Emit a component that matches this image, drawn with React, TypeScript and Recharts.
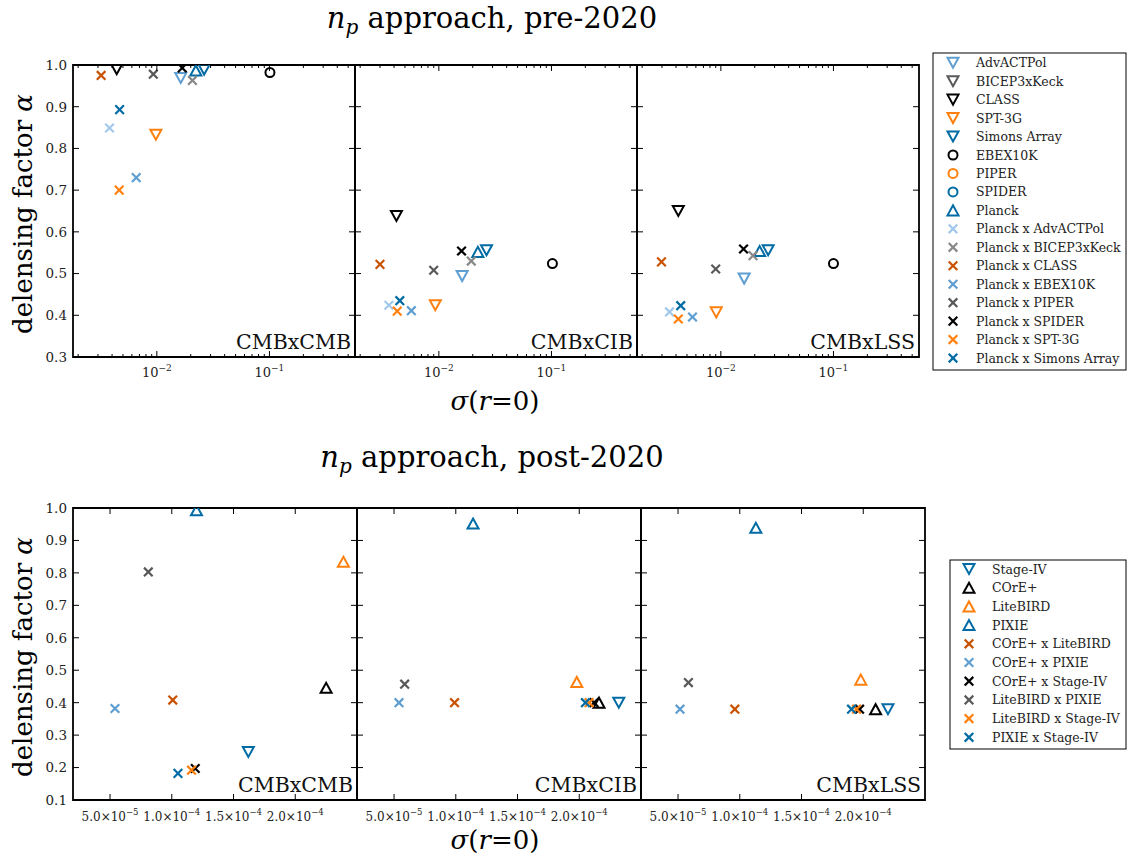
import React from 'react';
import { ScatterChart, Scatter, XAxis, YAxis, ReferenceArea } from 'recharts';

const FONT = '"DejaVu Serif", "Liberation Serif", serif';

const BLUE = '#006BA4';
const ORANGE = '#FF800E';
const DGRAY = '#595959';
const MBLUE = '#5F9ED1';
const DORANGE = '#C85200';
const GRAY = '#898989';
const LBLUE = '#A2C8EC';
const BLACK = '#000000';

// ---------- pre-2020 ----------
const preNames = [
  'AdvACTPol', 'BICEP3xKeck', 'CLASS', 'SPT-3G', 'Simons Array', 'EBEX10K', 'PIPER', 'SPIDER', 'Planck',
  'Planck x AdvACTPol', 'Planck x BICEP3xKeck', 'Planck x CLASS', 'Planck x EBEX10K', 'Planck x PIPER',
  'Planck x SPIDER', 'Planck x SPT-3G', 'Planck x Simons Array',
];
const preShapes = ['down', 'down', 'down', 'down', 'down', 'circle', 'circle', 'circle', 'up',
  'x', 'x', 'x', 'x', 'x', 'x', 'x', 'x'];
const preColors = [MBLUE, DGRAY, BLACK, ORANGE, BLUE, BLACK, ORANGE, BLUE, BLUE,
  LBLUE, GRAY, DORANGE, MBLUE, DGRAY, BLACK, ORANGE, BLUE];

const preCMBxCMB_sigma = [1.63e-2, null, 4.4e-3, 9.8e-3, 2.63e-2, 0.101, null, null, 2.22e-2,
  3.8e-3, 2.07e-2, 3.2e-3, 6.56e-3, 9.3e-3, 1.68e-2, 4.63e-3, 4.67e-3];
const preCMBxCMB_alpha = [0.969, null, 0.99, 0.833, 0.989, 0.982, null, null, 0.987,
  0.849, 0.963, 0.975, 0.730, 0.978, 0.993, 0.700, 0.893];

const preCMBxCIB_sigma = [1.61e-2, null, 4.2e-3, 9.3e-3, 2.65e-2, 0.102, null, null, 2.22e-2,
  3.6e-3, 1.94e-2, 3.0e-3, 5.7e-3, 9.0e-3, 1.59e-2, 4.27e-3, 4.5e-3];
const preCMBxCIB_alpha = [0.494, null, 0.638, 0.424, 0.556, 0.524, null, null, 0.552,
  0.424, 0.530, 0.522, 0.411, 0.508, 0.554, 0.410, 0.435];

const preCMBxLSS_sigma = [1.61e-2, null, 4.19e-3, 9.1e-3, 2.63e-2, 0.1, null, null, 2.21e-2,
  3.5e-3, 1.93e-2, 2.97e-3, 5.6e-3, 9.0e-3, 1.59e-2, 4.19e-3, 4.4e-3];
const preCMBxLSS_alpha = [0.488, null, 0.650, 0.407, 0.556, 0.524, null, null, 0.554,
  0.408, 0.543, 0.528, 0.396, 0.511, 0.559, 0.391, 0.423];

// ---------- post-2020 ----------
const postNames = [
  'Stage-IV', 'COrE+', 'LiteBIRD', 'PIXIE', 'COrE+ x LiteBIRD', 'COrE+ x PIXIE', 'COrE+ x Stage-IV',
  'LiteBIRD x PIXIE', 'LiteBIRD x Stage-IV', 'PIXIE x Stage-IV',
];
const postShapes = ['down', 'up', 'up', 'up', 'x', 'x', 'x', 'x', 'x', 'x'];
const postColors = [BLUE, BLACK, ORANGE, BLUE, DORANGE, MBLUE, BLACK, DGRAY, ORANGE, BLUE];

const postCMBxCMB_sigma = [1.62e-4, 2.25e-4, 2.39e-4, 1.20e-4, 1.008e-4, 5.4e-5, 1.19e-4, 8.1e-5, 1.16e-4, 1.05e-4];
const postCMBxCMB_alpha = [0.248, 0.446, 0.834, 0.993, 0.408, 0.382, 0.197, 0.803, 0.192, 0.182];

const postCMBxCIB_sigma = [2.32e-4, 2.16e-4, 1.98e-4, 1.14e-4, 9.9e-5, 5.4e-5, 2.12e-4, 5.86e-5, 2.08e-4, 2.05e-4];
const postCMBxCIB_alpha = [0.40, 0.40, 0.464, 0.952, 0.40, 0.40, 0.40, 0.457, 0.40, 0.40];

const postCMBxLSS_sigma = [2.2e-4, 2.1e-4, 1.98e-4, 1.13e-4, 9.6e-5, 5.16e-5, 1.97e-4, 5.84e-5, 1.946e-4, 1.905e-4];
const postCMBxLSS_alpha = [0.38, 0.38, 0.471, 0.939, 0.38, 0.38, 0.38, 0.462, 0.38, 0.38];

// ---------- axes ----------
const preXDomain = [0.0018, 0.575];
const preXTicks = [0.002, 0.003, 0.004, 0.005, 0.006, 0.007, 0.008, 0.009, 0.01,
  0.02, 0.03, 0.04, 0.05, 0.06, 0.07, 0.08, 0.09, 0.1, 0.2, 0.3, 0.4, 0.5];
const preYDomain = [0.3, 1.0];
const preYTicks = [0.3, 0.4, 0.5, 0.6, 0.7, 0.8, 0.9, 1.0];

const postXDomain = [2e-5, 2.5e-4];
const postXTicks = [5e-5, 1e-4, 1.5e-4, 2e-4];
const postYDomain = [0.1, 1.0];
const postYTicks = [0.1, 0.2, 0.3, 0.4, 0.5, 0.6, 0.7, 0.8, 0.9, 1.0];

const panelLabels = ['CMBxCMB', 'CMBxCIB', 'CMBxLSS'];

function Marker({ cx, cy, shape, color }: { cx: number; cy: number; shape: string; color: string }) {
  if (cx == null || cy == null || isNaN(cx) || isNaN(cy)) return null;
  const sw = 2;
  if (shape === 'down') {
    const w = 5.5, h = 5;
    return <polygon points={`${cx - w},${cy - h} ${cx + w},${cy - h} ${cx},${cy + h}`} fill="none" stroke={color} strokeWidth={sw} />;
  }
  if (shape === 'up') {
    const w = 5.5, h = 5;
    return <polygon points={`${cx - w},${cy + h} ${cx + w},${cy + h} ${cx},${cy - h}`} fill="none" stroke={color} strokeWidth={sw} />;
  }
  if (shape === 'circle') {
    return <circle cx={cx} cy={cy} r={4.5} fill="none" stroke={color} strokeWidth={sw} />;
  }
  const r = 4.3;
  return (
    <g stroke={color} strokeWidth={2.2}>
      <line x1={cx - r} y1={cy - r} x2={cx + r} y2={cy + r} />
      <line x1={cx - r} y1={cy + r} x2={cx + r} y2={cy - r} />
    </g>
  );
}

const ML = 60, MT = 10, MR = 10, MB = 34;

function isPow10(v: number) {
  const l = Math.log10(v);
  return Math.abs(l - Math.round(l)) < 1e-9;
}

function Panel(props: {
  plotX: number; plotY: number; plotW: number; plotH: number;
  log: boolean; xDomain: number[]; xTicks: number[]; yDomain: number[]; yTicks: number[];
  showY: boolean; label: string;
  sigma: (number | null)[]; alpha: (number | null)[]; shapes: string[]; colors: string[];
}) {
  const { plotX, plotY, plotW, plotH, log, xDomain, xTicks, yDomain, yTicks, showY, sigma, alpha, shapes, colors } = props;
  const PL = ML, PT = MT, PB = MT + plotH;

  const yTick = (p: any) => {
    const y = p.y;
    const v = p.payload.value as number;
    return (
      <g>
        <line x1={PL} x2={PL + 6} y1={y} y2={y} stroke="#000" strokeWidth={1} />
        <line x1={PL + plotW - 6} x2={PL + plotW} y1={y} y2={y} stroke="#000" strokeWidth={1} />
        {showY && (
          <text x={PL - 6} y={y} dy="0.36em" textAnchor="end" fontFamily={FONT} fontSize={13.5} fill="#222">
            {v.toFixed(1)}
          </text>
        )}
      </g>
    );
  };

  const xTick = (p: any) => {
    const x = p.x;
    const v = p.payload.value as number;
    if (log) {
      const major = isPow10(v);
      const len = major ? 6 : 3;
      const exp = Math.round(Math.log10(v));
      return (
        <g>
          <line x1={x} x2={x} y1={PB - len} y2={PB} stroke="#000" strokeWidth={1} />
          <line x1={x} x2={x} y1={PT} y2={PT + len} stroke="#000" strokeWidth={1} />
          {major && (
            <text x={x} y={PB + 20} textAnchor="middle" fontFamily={FONT} fontSize={13} fill="#222">
              10<tspan dy={-6} fontSize={9}>{'\u2212' + Math.abs(exp)}</tspan>
            </text>
          )}
        </g>
      );
    }
    const exp = Math.floor(Math.log10(v) + 1e-9);
    const man = (v / Math.pow(10, exp)).toFixed(1);
    return (
      <g>
        <line x1={x} x2={x} y1={PB - 6} y2={PB} stroke="#000" strokeWidth={1} />
        <line x1={x} x2={x} y1={PT} y2={PT + 6} stroke="#000" strokeWidth={1} />
        <text x={x} y={PB + 21} textAnchor="middle" fontFamily={FONT} fontSize={12} fill="#222">
          {man + '\u00d710'}<tspan dy={-6} fontSize={8.5}>{'\u2212' + Math.abs(exp)}</tspan>
        </text>
      </g>
    );
  };

  const series = sigma.map((s, i) => ({ s, a: alpha[i], i })).filter((d) => d.s != null && d.a != null);

  return (
    <div style={{ position: 'absolute', left: plotX - ML, top: plotY - MT }}>
      <ScatterChart width={plotW + ML + MR} height={plotH + MT + MB} margin={{ top: MT, right: MR, bottom: MB - 2, left: ML - 2 }}>
        <XAxis
          type="number" dataKey="x" scale={log ? 'log' : 'linear'} domain={xDomain} allowDataOverflow
          ticks={xTicks} interval={0} tick={xTick} axisLine={false} tickLine={false} height={2}
        />
        <YAxis
          type="number" dataKey="y" domain={yDomain} allowDataOverflow
          ticks={yTicks} interval={0} tick={yTick} axisLine={false} tickLine={false} width={2}
        />
        {series.map((d) => (
          <Scatter
            key={d.i}
            data={[{ x: d.s, y: d.a }]}
            isAnimationActive={false}
            shape={(sp: any) => <Marker cx={sp.cx} cy={sp.cy} shape={shapes[d.i]} color={colors[d.i]} />}
          />
        ))}
        <ReferenceArea
          x1={xDomain[0]} x2={xDomain[1]} y1={yDomain[0]} y2={yDomain[1]}
          fill="none" fillOpacity={0} stroke="#000" strokeWidth={1.8} ifOverflow="visible"
        />
      </ScatterChart>
    </div>
  );
}

function Legend({ x, y, w, h, mx, tx, y0, dy, names, shapes, colors }: any) {
  return (
    <g>
      <rect x={x} y={y} width={w} height={h} fill="#fff" stroke="#000" strokeWidth={1} />
      {names.map((n: string, i: number) => (
        <g key={n}>
          <Marker cx={mx} cy={y0 + i * dy} shape={shapes[i]} color={colors[i]} />
          <text x={tx} y={y0 + i * dy} dy="0.36em" fontFamily={FONT} fontSize={12.5} fill="#222">{n}</text>
        </g>
      ))}
    </g>
  );
}

export default function App() {
  const topX = [73, 355, 637];
  const botX = [73, 357, 641];
  const preS = [preCMBxCMB_sigma, preCMBxCIB_sigma, preCMBxLSS_sigma];
  const preA = [preCMBxCMB_alpha, preCMBxCIB_alpha, preCMBxLSS_alpha];
  const postS = [postCMBxCMB_sigma, postCMBxCIB_sigma, postCMBxLSS_sigma];
  const postA = [postCMBxCMB_alpha, postCMBxCIB_alpha, postCMBxLSS_alpha];
  return (
    <div style={{ position: 'absolute', left: 0, top: 0, width: 1127, height: 859, background: '#fff', overflow: 'hidden' }}>
      {topX.map((px, k) => (
        <Panel key={'t' + k} plotX={px} plotY={65} plotW={282} plotH={292} log
          xDomain={preXDomain} xTicks={preXTicks} yDomain={preYDomain} yTicks={preYTicks}
          showY={k === 0} label={panelLabels[k]} sigma={preS[k]} alpha={preA[k]} shapes={preShapes} colors={preColors} />
      ))}
      {botX.map((px, k) => (
        <Panel key={'b' + k} plotX={px} plotY={508} plotW={284} plotH={292} log={false}
          xDomain={postXDomain} xTicks={postXTicks} yDomain={postYDomain} yTicks={postYTicks}
          showY={k === 0} label={panelLabels[k]} sigma={postS[k]} alpha={postA[k]} shapes={postShapes} colors={postColors} />
      ))}
      <svg width={1127} height={859} style={{ position: 'absolute', left: 0, top: 0, pointerEvents: 'none' }}>
        {topX.map((px, k) => (
          <text key={'lt' + k} x={px + 282 - 4} y={65 + 292 - 8} textAnchor="end" fontFamily={FONT} fontSize={20.5} fill="#111">{panelLabels[k]}</text>
        ))}
        {botX.map((px, k) => (
          <text key={'lb' + k} x={px + 284 - 4} y={508 + 292 - 8} textAnchor="end" fontFamily={FONT} fontSize={20.5} fill="#111">{panelLabels[k]}</text>
        ))}
        <text x={492} y={28} textAnchor="middle" fontFamily={FONT} fontSize={29} fill="#000">
          <tspan fontStyle="italic">n</tspan><tspan fontStyle="italic" fontSize={20} dy={6}>p</tspan><tspan dy={-6}>{'  approach, pre-2020'}</tspan>
        </text>
        <text x={492} y={467} textAnchor="middle" fontFamily={FONT} fontSize={29} fill="#000">
          <tspan fontStyle="italic">n</tspan><tspan fontStyle="italic" fontSize={20} dy={6}>p</tspan><tspan dy={-6}>{'  approach, post-2020'}</tspan>
        </text>
        <text x={495} y={410} textAnchor="middle" fontFamily={FONT} fontSize={26} fill="#000">
          <tspan fontStyle="italic">σ</tspan>(<tspan fontStyle="italic">r</tspan>=0)
        </text>
        <text x={495} y={849} textAnchor="middle" fontFamily={FONT} fontSize={26} fill="#000">
          <tspan fontStyle="italic">σ</tspan>(<tspan fontStyle="italic">r</tspan>=0)
        </text>
        <text transform="translate(32,214) rotate(-90)" textAnchor="middle" fontFamily={FONT} fontSize={26} fill="#000">
          delensing factor <tspan fontStyle="italic">α</tspan>
        </text>
        <text transform="translate(32,657) rotate(-90)" textAnchor="middle" fontFamily={FONT} fontSize={26} fill="#000">
          delensing factor <tspan fontStyle="italic">α</tspan>
        </text>
        <Legend x={933} y={53} w={193} h={317} mx={953} tx={976} y0={62.7} dy={18.46}
          names={preNames} shapes={preShapes} colors={preColors} />
        <Legend x={950} y={560} w={176} h={189} mx={969} tx={992} y0={569} dy={18.7}
          names={postNames} shapes={postShapes} colors={postColors} />
      </svg>
    </div>
  );
}
